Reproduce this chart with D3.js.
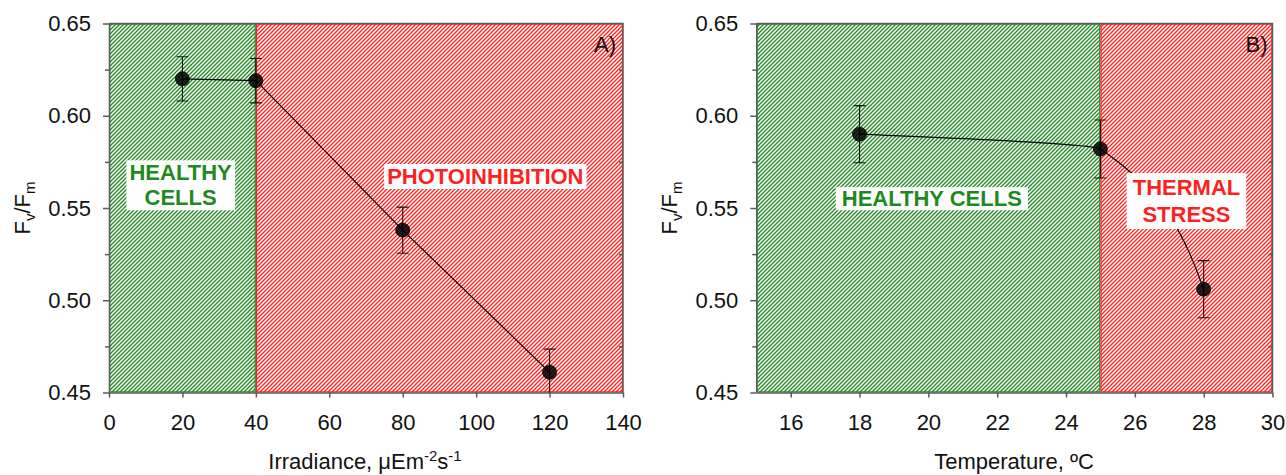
<!DOCTYPE html>
<html>
<head>
<meta charset="utf-8">
<title>Fv/Fm vs irradiance and temperature</title>
<script src="https://cdn.jsdelivr.net/npm/d3@7"></script>
<style>
	body { margin: 0; background: #fff; }
	svg text { font-family: "Liberation Sans", Arial, sans-serif; }
</style>
</head>
<body>
<svg id="chart" width="1286" height="475"></svg>
<script>
	// Data
	const irradiance = [20, 40, 80, 120];
	const fvfmIrradiance = [0.620, 0.619, 0.538, 0.461];
	const errIrradiance = [0.012, 0.012, 0.0125, 0.0125];

	const temperature = [18, 25, 28];
	const fvfmTemperature = [0.590, 0.582, 0.506];
	const errTemperature = [0.0155, 0.0157, 0.0155];

	const irradianceZones = [[0, 40, "healthy"], [40, 140, "stress"]];
	const temperatureZones = [[15, 25, "healthy"], [25, 30, "stress"]];

	const irradianceTicks = [0, 20, 40, 60, 80, 100, 120, 140];
	const temperatureTicks = [16, 18, 20, 22, 24, 26, 28, 30];
	const yTicks = [0.45, 0.50, 0.55, 0.60, 0.65];
	const yMinorTicks = [0.475, 0.525, 0.575, 0.625];

	const zoneColor = { healthy: "#1e8a1e", stress: "#ff1f1f" };
	const axisColor = "#5a5a5a";
	const plotTop = 23.5, plotBottom = 392.5;

	const svg = d3.select("#chart");
	const defs = svg.append("defs");

	// hatch patterns "////"
	Object.entries(zoneColor).forEach(([k, c]) => {
		const p = defs.append("pattern")
			.attr("id", `hatch-${k}`)
			.attr("patternUnits", "userSpaceOnUse")
			.attr("width", 4).attr("height", 4);
		p.append("rect").attr("width", 4).attr("height", 4).attr("fill", "#fff");
		p.append("path")
			.attr("d", "M-1,1 L1,-1 M0,4 L4,0 M3,5 L5,3")
			.attr("stroke", c).attr("stroke-width", 1.3);
	});

	function panel(cfg) {
		const x = d3.scaleLinear().domain(cfg.xDomain).range([cfg.left, cfg.right]);
		const y = d3.scaleLinear().domain([0.45, 0.65]).range([plotBottom, plotTop]);
		const g = svg.append("g");

		defs.append("clipPath").attr("id", `clip-${cfg.id}`)
			.append("rect")
			.attr("x", cfg.left).attr("y", plotTop)
			.attr("width", cfg.right - cfg.left).attr("height", plotBottom - plotTop);

		// zones
		g.selectAll(".zone").data(cfg.zones).join("rect")
			.attr("x", d => x(d[0]) + 0.6)
			.attr("y", plotTop + 0.6)
			.attr("width", d => x(d[1]) - x(d[0]) - 1.2)
			.attr("height", plotBottom - plotTop - 1.2)
			.attr("fill", d => `url(#hatch-${d[2]})`)
			.attr("stroke", d => zoneColor[d[2]])
			.attr("stroke-width", 1.2);

		// frame top / right
		g.append("path")
			.attr("d", `M${cfg.left},${plotTop} H${cfg.right} V${plotBottom}`)
			.attr("fill", "none").attr("stroke", axisColor).attr("stroke-width", 1.5);

		// y axis
		g.append("g").attr("transform", `translate(${cfg.left},0)`)
			.call(d3.axisLeft(y).tickValues(yTicks).tickFormat(d3.format(".2f"))
				.tickSize(6).tickPadding(12).tickSizeOuter(0));
		g.append("g").attr("transform", `translate(${cfg.left},0)`)
			.call(d3.axisLeft(y).tickValues(yMinorTicks).tickFormat("").tickSize(4).tickSizeOuter(0))
			.select(".domain").remove();
		// right axis minor ticks pointing in
		g.append("g").attr("transform", `translate(${cfg.right},0)`)
			.call(d3.axisLeft(y).tickValues(yMinorTicks).tickFormat("").tickSize(4).tickSizeOuter(0))
			.select(".domain").remove();

		// x axis
		g.append("g").attr("transform", `translate(0,${plotBottom})`)
			.call(d3.axisBottom(x).tickValues(cfg.xTicks).tickSize(5).tickPadding(17).tickSizeOuter(0));

		g.selectAll(".domain, .tick line").attr("stroke", axisColor).attr("stroke-width", 1.5);
		g.selectAll(".tick text").attr("font-size", 22).attr("fill", "#111")
			.style("font-family", "'Liberation Sans', Arial, sans-serif");

		// y title Fv/Fm
		const yt = g.append("text")
			.attr("transform", `translate(${cfg.left - 79},${(plotTop + plotBottom) / 2}) rotate(-90)`)
			.attr("text-anchor", "middle")
			.attr("font-size", 22).attr("fill", "#111");
		yt.append("tspan").text("F");
		yt.append("tspan").attr("font-size", 15).attr("dy", 5).text("v");
		yt.append("tspan").attr("dy", -5).text("/F");
		yt.append("tspan").attr("font-size", 15).attr("dy", 5).text("m");

		// x title
		const xt = g.append("text")
			.attr("x", cfg.titleX).attr("y", 469)
			.attr("text-anchor", "middle")
			.attr("font-size", 22).attr("fill", "#111");
		cfg.xTitle(xt);

		// panel letter
		g.append("text")
			.attr("x", cfg.right - cfg.letterInset).attr("y", plotTop + 28)
			.attr("text-anchor", "end")
			.attr("font-size", 22).attr("fill", "#111")
			.text(cfg.letter);

		const pts = cfg.xs.map((v, i) => ({ x: v, y: cfg.ys[i], e: cfg.errs[i] }));
		const plot = g.append("g").attr("clip-path", `url(#clip-${cfg.id})`);

		// connecting line
		plot.append("path")
			.datum(pts)
			.attr("d", d3.line().x(d => x(d.x)).y(d => y(d.y)).curve(cfg.curve))
			.attr("fill", "none").attr("stroke", "#000").attr("stroke-width", 1.2);

		// error bars
		const eb = plot.selectAll(".err").data(pts).join("g");
		eb.append("line")
			.attr("x1", d => x(d.x)).attr("x2", d => x(d.x))
			.attr("y1", d => y(d.y + d.e)).attr("y2", d => y(d.y - d.e))
			.attr("stroke", "#111").attr("stroke-width", 1.1);
		eb.append("line")
			.attr("x1", d => x(d.x) - 6).attr("x2", d => x(d.x) + 6)
			.attr("y1", d => y(d.y + d.e)).attr("y2", d => y(d.y + d.e))
			.attr("stroke", "#111").attr("stroke-width", 1.1);
		eb.append("line")
			.attr("x1", d => x(d.x) - 6).attr("x2", d => x(d.x) + 6)
			.attr("y1", d => y(d.y - d.e)).attr("y2", d => y(d.y - d.e))
			.attr("stroke", "#111").attr("stroke-width", 1.1);

		// points
		plot.selectAll(".pt").data(pts).join("circle")
			.attr("cx", d => x(d.x)).attr("cy", d => y(d.y))
			.attr("r", 7)
			.attr("fill", "#000").attr("fill-opacity", 0.85)
			.attr("stroke", "#000").attr("stroke-width", 0.8);

		// labels with white boxes
		cfg.labels.forEach(l => {
			const lg = g.append("g");
			const t = lg.append("text")
				.attr("text-anchor", "middle")
				.attr("font-size", 22).attr("font-weight", "bold")
				.attr("fill", zoneColor[l.zone]);
			l.lines.forEach((s, i) => {
				t.append("tspan").attr("x", x(l.x)).attr("y", y(l.y) + i * l.lh).text(s);
			});
			const bb = t.node().getBBox();
			lg.insert("rect", "text")
				.attr("x", bb.x - l.px).attr("y", bb.y - l.py)
				.attr("width", bb.width + 2 * l.px).attr("height", bb.height + 2 * l.py)
				.attr("fill", "#fff");
		});
	}

	panel({
		id: "a",
		left: 109, right: 623,
		xDomain: [0, 140], xTicks: irradianceTicks,
		zones: irradianceZones,
		xs: irradiance, ys: fvfmIrradiance, errs: errIrradiance,
		curve: d3.curveLinear,
		letter: "A)", letterInset: 7,
		titleX: 365,
		xTitle: t => {
			t.append("tspan").text("Irradiance, \u03bcEm");
			t.append("tspan").attr("font-size", 15).attr("dy", -8).text("-2");
			t.append("tspan").attr("dy", 8).text("s");
			t.append("tspan").attr("font-size", 15).attr("dy", -8).text("-1");
		},
		labels: [
			{ lines: ["HEALTHY", "CELLS"], x: 19.5, y: 0.565, lh: 25, zone: "healthy", px: 3, py: 0 },
			{ lines: ["PHOTOINHIBITION"], x: 102.5, y: 0.563, lh: 0, zone: "stress", px: 3, py: 0 }
		]
	});

	panel({
		id: "b",
		left: 756.3, right: 1272.5,
		xDomain: [15, 30], xTicks: temperatureTicks,
		zones: temperatureZones,
		xs: temperature, ys: fvfmTemperature, errs: errTemperature,
		curve: d3.curveMonotoneY,
		letter: "B)", letterInset: 5,
		titleX: 1014,
		xTitle: t => t.text("Temperature, \u00baC"),
		labels: [
			{ lines: ["HEALTHY CELLS"], x: 20.1, y: 0.551, lh: 0, zone: "healthy", px: 6, py: -1 },
			{ lines: ["THERMAL", "STRESS"], x: 27.5, y: 0.557, lh: 27, zone: "stress", px: 6, py: 2 }
		]
	});
</script>
</body>
</html>
